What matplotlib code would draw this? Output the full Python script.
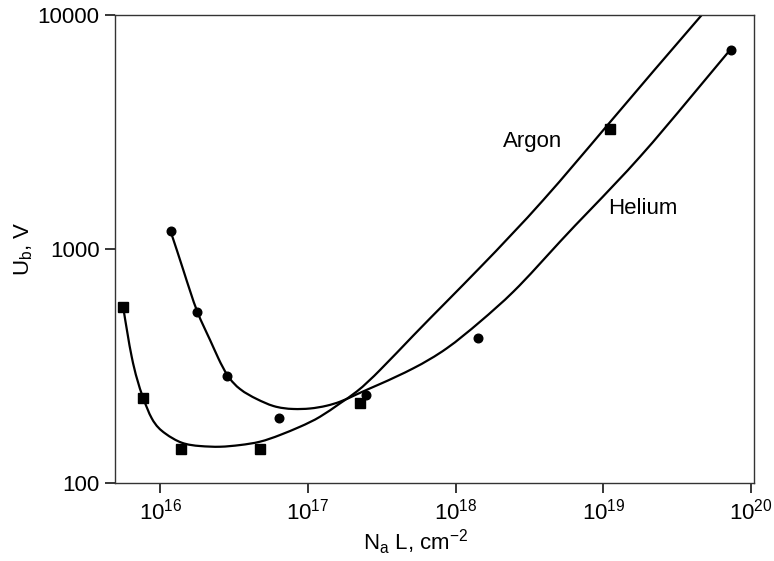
import numpy as np
import matplotlib
matplotlib.use("Agg")
from matplotlib import pyplot as plt
from matplotlib.path import Path
from matplotlib.patches import PathPatch
from matplotlib.ticker import NullLocator, FixedLocator

plt.rcParams['font.family'] = ['Liberation Sans', 'DejaVu Sans']
plt.rcParams['mathtext.default'] = 'regular'

# measured points
argon_x = [5.57e15, 7.6e15, 1.375e16, 4.73e16, 2.24e17, 1.11e19]
argon_y = [567, 230, 140, 140, 219, 3260]
helium_x = [1.175e16, 1.78e16, 2.81e16, 6.33e16, 2.45e17, 1.41e18, 7.28e19]
helium_y = [1190, 540, 287, 189, 238, 417, 7080]

# fitted curves
argon_fit_x = [5.59e15, 6.4e15, 7.6e15, 8.75e15, 1.076e16, 1.396e16, 1.857e16, 2.537e16,
               3.464e16, 4.732e16, 6.462e16, 8.83e16, 1.206e17, 1.647e17, 2.136e17, 3.072e17,
               5.164e17, 8.69e17, 1.461e18, 3.918e18, 1.053e19, 4.63e19]
argon_fit_y = [570.6, 346.5, 233.8, 189, 163.1, 148.7, 143.9, 142.9,
               145.3, 150.2, 160.4, 174, 192, 219, 246, 304,
               426.9, 596.6, 833.6, 1620, 3354, 10000]
helium_fit_x = [1.176e16, 1.431e16, 1.78e16, 2.171e16, 2.471e16, 2.842e16, 3.464e16, 4.495e16,
                5.823e16, 7.953e16, 1.032e17, 1.339e17, 1.647e17, 2.136e17, 3.072e17, 5.164e17,
                8.69e17, 1.461e18, 2.455e18, 5.08e18, 8.12e18, 1.77e19, 3.858e19, 7.2e19]
helium_fit_y = [1186, 813, 540, 408.5, 341.2, 289.4, 252.2, 228.6,
                213.4, 207.2, 208.2, 214, 222.6, 239.3, 264.9, 309.2,
                376.3, 489, 657, 1074.6, 1468, 2480, 4419, 7087]

x_ticks = [1e16, 1e17, 1e18, 1e19, 1e20]
y_ticks = [100, 1000, 10000]


def smooth_path(xs, ys):
    # natural cubic spline through the read points in log-log space,
    # handed to matplotlib as bezier segments
    u = np.log10(xs)
    v = np.log10(ys)
    n = len(u)
    h = np.diff(u)
    A = np.zeros((n, n))
    r = np.zeros(n)
    A[0, 0] = A[-1, -1] = 1
    for i in range(1, n - 1):
        A[i, i - 1] = h[i - 1]
        A[i, i] = 2 * (h[i - 1] + h[i])
        A[i, i + 1] = h[i]
        r[i] = 6 * ((v[i + 1] - v[i]) / h[i] - (v[i] - v[i - 1]) / h[i - 1])
    M = np.linalg.solve(A, r)
    s = np.zeros(n)
    s[:-1] = (v[1:] - v[:-1]) / h - h * (2 * M[:-1] + M[1:]) / 6
    s[-1] = (v[-1] - v[-2]) / h[-1] + h[-1] * (M[-2] + 2 * M[-1]) / 6
    verts = [(u[0], v[0])]
    codes = [Path.MOVETO]
    for i in range(n - 1):
        verts += [(u[i] + h[i] / 3, v[i] + s[i] * h[i] / 3),
                  (u[i + 1] - h[i] / 3, v[i + 1] - s[i + 1] * h[i] / 3),
                  (u[i + 1], v[i + 1])]
        codes += [Path.CURVE4] * 3
    return Path(10 ** np.array(verts), codes)


fig = plt.figure(figsize=(7.74, 5.61), dpi=100)
ax = fig.add_axes([0.1486, 0.139, 0.8256, 0.8343])

ax.set_xscale('log')
ax.set_yscale('log')
ax.set_xlim(4.935e15, 1.046e20)
ax.set_ylim(100, 10000)

for fx, fy in [(argon_fit_x, argon_fit_y), (helium_fit_x, helium_fit_y)]:
    ax.add_patch(PathPatch(smooth_path(fx, fy), facecolor='none', edgecolor='black',
                           lw=1.6, capstyle='round'))
ax.plot(argon_x, argon_y, 's', color='black', ms=6.8, zorder=3)
ax.plot(helium_x, helium_y, 'o', color='black', ms=6.2, zorder=3)

ax.xaxis.set_major_locator(FixedLocator(x_ticks))
ax.xaxis.set_minor_locator(NullLocator())
ax.yaxis.set_major_locator(FixedLocator(y_ticks))
ax.yaxis.set_minor_locator(NullLocator())
ax.set_yticklabels([str(v) for v in y_ticks])

ax.tick_params(axis='both', direction='out', length=7, width=1.1, labelsize=16, pad=4)
for s in ax.spines.values():
    s.set_linewidth(1.0)
    s.set_color('#333333')

ax.text(2.09e18, 2874, 'Argon', fontsize=16, va='center', ha='left')
ax.text(1.074e19, 1483, 'Helium', fontsize=16, va='center', ha='left')

ax.set_xlabel('N$_a$ L, cm$^{-2}$', fontsize=16, labelpad=4)
ax.set_ylabel('U$_b$, V', fontsize=16, labelpad=2)
ax.xaxis.set_label_coords(0.471, -0.095)

fig.savefig('out.png', dpi=100)
